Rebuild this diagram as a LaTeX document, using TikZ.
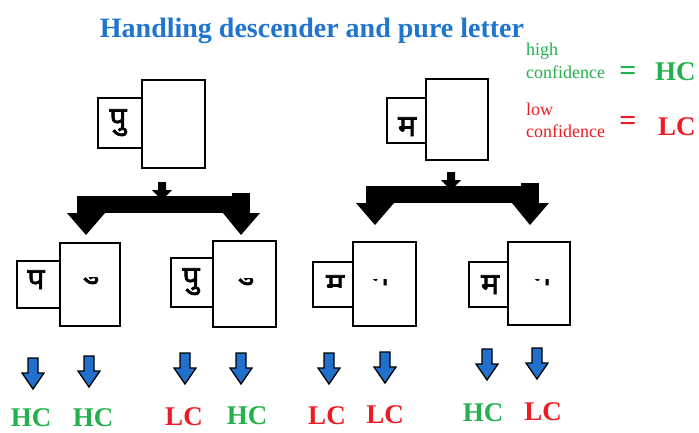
\documentclass[tikz,border=0pt]{standalone}
\usepackage{fontspec}
\setmainfont{Liberation Serif}
\newfontfamily\devfont[Script=Devanagari, FakeBold=2.5]{Noto Sans}
\usepackage{tikz}
\usetikzlibrary{positioning}

\definecolor{titleblue}{RGB}{31,116,206}
\definecolor{hcgreen}{RGB}{34,177,76}
\definecolor{lcred}{RGB}{237,28,36}
\definecolor{arrowblue}{RGB}{33,112,204}

\tikzstyle{seg} = [draw=black, line width=1.6pt, fill=white, inner sep=0pt]
\tikzstyle{glyph} = [font=\devfont\fontsize{30}{30}\selectfont, inner sep=0pt, anchor=base]
\tikzstyle{conf} = [font=\bfseries\fontsize{27}{27}\selectfont, inner sep=0pt, anchor=base]
\tikzstyle{legendtext} = [font=\fontsize{18}{18}\selectfont, inner sep=0pt, anchor=base west]
\tikzstyle{eqsign} = [font=\bfseries\fontsize{30}{30}\selectfont, inner sep=0pt]

\tikzset{
  fork/.pic={
    \fill[black] (-4,-14) -- (4,-14) -- (4,-6) -- (10,-6) -- (0,4) -- (-10,-6) -- (-4,-6) -- cycle;
    \fill[black] (-85,0) rectangle (88,17);
    \fill[black] (70,-3) rectangle (88,17);
    \fill[black] (-95,17) -- (-57,17) -- (-76,39) -- cycle;
    \fill[black] (61,17) -- (98,17) -- (79,39) -- cycle;
  },
  bluedown/.pic={
    \filldraw[fill=arrowblue, draw=black, line width=1.3pt, line join=miter]
      (-5,0) -- (5,0) -- (5,15) -- (11,15) -- (0,31) -- (-11,15) -- (-5,15) -- cycle;
  }
}

\begin{document}
\begin{tikzpicture}[x=1pt, y=-1pt]

\fill[white] (0,0) rectangle (699,432);
\useasboundingbox (0,0) rectangle (699,432);

%title
\node[font=\bfseries\fontsize{28}{28}\selectfont, text=titleblue, anchor=base, inner sep=0pt] (title) at (312,37) {Handling descender and pure letter};

%legend
\node[legendtext, text=hcgreen] (high) at (526,55) {high};
\node[legendtext, text=hcgreen] (highconf) at (526,78) {confidence};
\node[eqsign, text=hcgreen] (higheq) at (628,73) {=};
\node[conf, text=hcgreen, anchor=base west] (highhc) at (655,80) {HC};
\node[legendtext, text=lcred] (low) at (526,115) {low};
\node[legendtext, text=lcred] (lowconf) at (526,137) {confidence};
\node[eqsign, text=lcred] (loweq) at (628,123) {=};
\node[conf, text=lcred, anchor=base west] (lowlc) at (658,135) {LC};

%top left: descender
\node[seg, minimum width=44pt, minimum height=50pt] (tlsmall) at (120,123) {};
\node[seg, minimum width=63pt, minimum height=88pt] (tlbig) at (173.5,124) {};
\node[glyph] (tlglyph) at (118,128) {पु};

%top right: pure letter
\node[seg, minimum width=39pt, minimum height=45pt] (trsmall) at (406.5,120.5) {};
\node[seg, minimum width=62pt, minimum height=81pt] (trbig) at (457,119.5) {};
\node[glyph] (trglyph) at (407,136) {म};

%splits
\pic at (162,196) {fork};
\pic at (451,186) {fork};

%pair 1
\node[seg, minimum width=43pt, minimum height=47pt] (p1small) at (38.5,284.5) {};
\node[seg, minimum width=60pt, minimum height=83pt] (p1big) at (90,284.5) {};
\node[glyph] (p1glyph) at (36,289) {प};
\begin{scope}
  \clip (64,277) rectangle (112,296);
  \node[glyph] (p1frag) at (89,276) {पु};
\end{scope}

%pair 2
\node[seg, minimum width=42pt, minimum height=49pt] (p2small) at (192,282.5) {};
\node[seg, minimum width=63pt, minimum height=86pt] (p2big) at (244.5,284) {};
\node[glyph] (p2glyph) at (191,287) {पु};
\begin{scope}
  \clip (219,278) rectangle (266,296);
  \node[glyph] (p2frag) at (244,277) {पु};
\end{scope}

%pair 3
\node[seg, minimum width=40pt, minimum height=45pt] (p3small) at (333,284.5) {};
\node[seg, minimum width=63pt, minimum height=84pt] (p3big) at (384.5,284) {};
\begin{scope}
  \clip (316,265) rectangle (351,287);
  \node[glyph] (p3glyph) at (335,294) {म};
\end{scope}
\begin{scope}
  \clip (360,279) rectangle (402,288);
  \node[glyph] (p3frag) at (380,285) {म};
\end{scope}

%pair 4
\node[seg, minimum width=39pt, minimum height=45pt] (p4small) at (488.5,284.5) {};
\node[seg, minimum width=62pt, minimum height=83pt] (p4big) at (539,283.5) {};
\node[glyph] (p4glyph) at (490,294) {म};
\begin{scope}
  \clip (520,279) rectangle (564,288);
  \node[glyph] (p4frag) at (542,285) {म};
\end{scope}

%arrows to confidence
\pic at (33,358) {bluedown};
\pic at (89,356) {bluedown};
\pic at (185,353) {bluedown};
\pic at (241,353) {bluedown};
\pic at (329,353) {bluedown};
\pic at (385,352) {bluedown};
\pic at (487,349) {bluedown};
\pic at (537,348) {bluedown};

%results
\node[conf, text=hcgreen] (r1) at (31,426) {HC};
\node[conf, text=hcgreen] (r2) at (93,426) {HC};
\node[conf, text=lcred] (r3) at (184,425) {LC};
\node[conf, text=hcgreen] (r4) at (247,424) {HC};
\node[conf, text=lcred] (r5) at (327,424) {LC};
\node[conf, text=lcred] (r6) at (385,423) {LC};
\node[conf, text=hcgreen] (r7) at (483,421) {HC};
\node[conf, text=lcred] (r8) at (543,420) {LC};

\end{tikzpicture}
\end{document}
